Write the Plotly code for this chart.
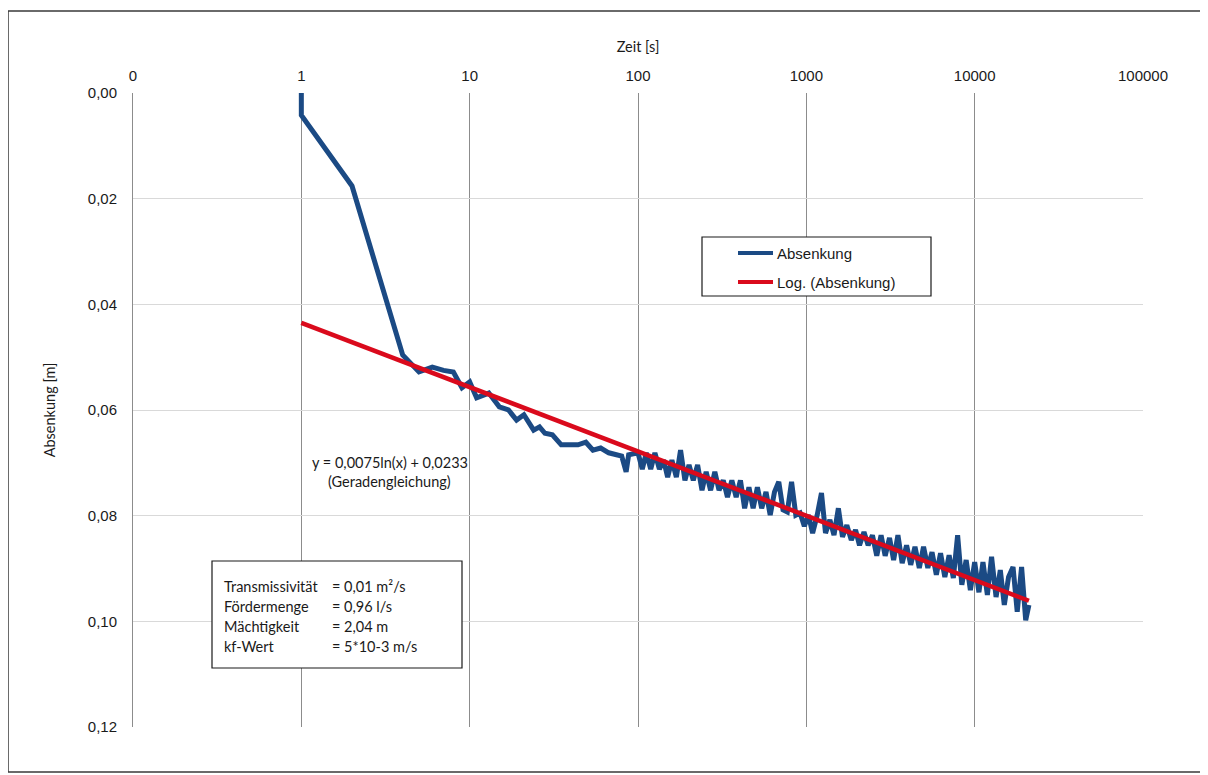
import plotly.graph_objects as go

# ---------------- data ----------------
zeit_s = [1, 1, 2, 3, 4, 5, 6, 7, 8, 9,
          10, 11, 13, 15, 17, 19, 21, 24, 26, 28,
          31, 35, 44, 49, 54, 60, 67, 80, 85, 88,
          100, 106, 112, 119, 126, 134, 142, 150, 159, 169,
          179, 190, 201, 213, 226, 240, 254, 270, 286, 303,
          321, 340, 361, 383, 406, 430, 456, 483, 512, 543,
          576, 610, 647, 686, 727, 771, 817, 866, 918, 973,
          1030, 1090, 1160, 1230, 1300, 1380, 1460, 1550, 1640, 1740,
          1850, 1960, 2070, 2200, 2330, 2470, 2620, 2780, 2940, 3120,
          3300, 3500, 3710, 3940, 4170, 4420, 4690, 4970, 5270, 5580,
          5920, 6270, 6650, 7050, 7470, 7920, 8390, 8900, 9430, 10000,
          10600, 11200, 11900, 12600, 13400, 14200, 15000, 15900, 16900, 17900,
          19000, 20100, 21000]

absenkung_m = [0.0000, 0.0042, 0.0176, 0.0361, 0.0496, 0.0528, 0.0519, 0.0525, 0.0528, 0.0558,
               0.0547, 0.0577, 0.0568, 0.0594, 0.0600, 0.0619, 0.0609, 0.0638, 0.0632, 0.0644,
               0.0647, 0.0666, 0.0666, 0.0661, 0.0676, 0.0672, 0.0681, 0.0687, 0.0717, 0.0685,
               0.0681, 0.0712, 0.0681, 0.0712, 0.0681, 0.0712, 0.0695, 0.0727, 0.0695, 0.0727,
               0.0676, 0.0733, 0.0704, 0.0733, 0.0704, 0.0752, 0.0717, 0.0752, 0.0717, 0.0752,
               0.0733, 0.0765, 0.0733, 0.0765, 0.0733, 0.0786, 0.0746, 0.0786, 0.0746, 0.0786,
               0.0755, 0.0799, 0.0755, 0.0736, 0.0789, 0.0793, 0.0736, 0.0799, 0.0795, 0.0820,
               0.0799, 0.0833, 0.0799, 0.0757, 0.0833, 0.0808, 0.0837, 0.0786, 0.0840, 0.0818,
               0.0846, 0.0827, 0.0856, 0.0831, 0.0856, 0.0837, 0.0876, 0.0837, 0.0876, 0.0842,
               0.0884, 0.0837, 0.0890, 0.0856, 0.0893, 0.0859, 0.0899, 0.0859, 0.0899, 0.0869,
               0.0912, 0.0871, 0.0916, 0.0875, 0.0918, 0.0837, 0.0931, 0.0884, 0.0941, 0.0888,
               0.0945, 0.0888, 0.0950, 0.0878, 0.0954, 0.0903, 0.0969, 0.0916, 0.0897, 0.0982,
               0.0897, 0.0998, 0.0969]

# logarithmic trend line (Excel "Log." trendline), end points as drawn
trend_t = [1, 21000]
trend_s = [0.0435, 0.0961]

x_tickvals = [0.1, 1, 10, 100, 1000, 10000, 100000]
x_ticktext = ["0", "1", "10", "100", "1000", "10000", "100000"]
y_tickvals = [0.00, 0.02, 0.04, 0.06, 0.08, 0.10, 0.12]

info_labels = ["Transmissivität", "Fördermenge", "Mächtigkeit", "kf-Wert"]
info_values = ["= 0,01 m²/s", "= 0,96 l/s", "= 2,04 m", "= 5*10-3 m/s"]

equation_text = "y = 0,0075ln(x) + 0,0233"
equation_note = "(Geradengleichung)"

# ---------------- layout helpers ----------------
# the page body adds an 8px margin, so the figure is drawn 8px smaller and
# all reference pixel positions are shifted by that offset
OFF = 8
W, H = 1208 - OFF, 775 - OFF
PLOT_L, PLOT_R, PLOT_T, PLOT_B = 133, 1143, 93, 727   # reference pixels
L = PLOT_L - OFF
T = PLOT_T - OFF
R = W - (PLOT_R - OFF)
B = H - (PLOT_B - OFF)
PW, PH = PLOT_R - PLOT_L, PLOT_B - PLOT_T


def px(x):
    return (x - PLOT_L) / PW


def py(y):
    return (PLOT_B - y) / PH


BLUE = "#1B4A84"
RED = "#DA0A1C"
ARIAL = "Liberation Sans, Arial, sans-serif"
CAL = "Lato, Carlito, Calibri, sans-serif"
TXT = "#1a1a1a"

fig = go.Figure()
fig.add_trace(go.Scatter(x=zeit_s, y=absenkung_m, mode="lines", name="Absenkung",
                         line=dict(color=BLUE, width=5), showlegend=False))
fig.add_trace(go.Scatter(x=trend_t, y=trend_s, mode="lines", name="Log. (Absenkung)",
                         line=dict(color=RED, width=4.5), showlegend=False))

fig.update_layout(
    width=W, height=H,
    margin=dict(l=L, r=R, t=T, b=B, pad=0),
    paper_bgcolor="white", plot_bgcolor="white",
    separators=",.",
    font=dict(family=ARIAL, size=15, color=TXT),
    xaxis=dict(type="log", range=[-1, 5], side="top",
               tickmode="array", tickvals=x_tickvals, ticktext=x_ticktext,
               showgrid=True, gridcolor="#8c8c8c", gridwidth=1,
               showline=False, ticks="", ticklabelstandoff=8,
               tickfont=dict(family=ARIAL, size=15, color=TXT),
               title=dict(text="Zeit [s]", font=dict(family=CAL, size=14.5, color=TXT),
                          standoff=10)),
    yaxis=dict(range=[0.12, 0], tickmode="array", tickvals=y_tickvals, tickformat=".2f",
               showgrid=True, gridcolor="#d9d9d9", gridwidth=1, zeroline=False,
               showline=True, linecolor="#8c8c8c", linewidth=1, ticks="",
               ticklabelstandoff=12,
               tickfont=dict(family=ARIAL, size=15, color=TXT),
               title=dict(text="Absenkung [m]", font=dict(family=CAL, size=14.5, color=TXT),
                          standoff=28)),
)

shapes = []
# outer chart border
shapes.append(dict(type="rect", xref="paper", yref="paper",
                   x0=px(8), x1=px(1206), y0=py(772), y1=py(11),
                   line=dict(color="#3a3a3a", width=1.5), fillcolor="rgba(0,0,0,0)", layer="above"))
# legend box
shapes.append(dict(type="rect", xref="paper", yref="paper",
                   x0=px(702), x1=px(931), y0=py(296), y1=py(237),
                   line=dict(color=TXT, width=1.2), fillcolor="white", layer="above"))
shapes.append(dict(type="line", xref="paper", yref="paper",
                   x0=px(738), x1=px(773), y0=py(253), y1=py(253),
                   line=dict(color=BLUE, width=4), layer="above"))
shapes.append(dict(type="line", xref="paper", yref="paper",
                   x0=px(738), x1=px(773), y0=py(282), y1=py(282),
                   line=dict(color=RED, width=4), layer="above"))
# info box
shapes.append(dict(type="rect", xref="paper", yref="paper",
                   x0=px(212), x1=px(462), y0=py(668), y1=py(561),
                   line=dict(color=TXT, width=1.2), fillcolor="white", layer="above"))
fig.update_layout(shapes=shapes)

ann = []
ann.append(dict(text="Absenkung", x=px(775), y=py(253), xref="paper", yref="paper",
                xanchor="left", yanchor="middle", showarrow=False,
                font=dict(family=ARIAL, size=15, color=TXT)))
ann.append(dict(text="Log. (Absenkung)", x=px(775), y=py(282), xref="paper", yref="paper",
                xanchor="left", yanchor="middle", showarrow=False,
                font=dict(family=ARIAL, size=15, color=TXT)))
ann.append(dict(text=equation_text, x=px(390), y=py(463), xref="paper", yref="paper",
                xanchor="center", yanchor="middle", showarrow=False,
                font=dict(family=CAL, size=14.5, color=TXT)))
ann.append(dict(text=equation_note, x=px(389), y=py(481), xref="paper", yref="paper",
                xanchor="center", yanchor="middle", showarrow=False,
                font=dict(family=CAL, size=14.5, color=TXT)))
row_y = [586, 606, 626, 646]
for lab, val, yy in zip(info_labels, info_values, row_y):
    ann.append(dict(text=lab, x=px(222), y=py(yy), xref="paper", yref="paper",
                    xanchor="left", yanchor="middle", showarrow=False,
                    font=dict(family=CAL, size=14.5, color=TXT)))
    ann.append(dict(text=val, x=px(330), y=py(yy), xref="paper", yref="paper",
                    xanchor="left", yanchor="middle", showarrow=False,
                    font=dict(family=CAL, size=14.5, color=TXT)))
fig.update_layout(annotations=ann)

fig.write_html("out.html")
